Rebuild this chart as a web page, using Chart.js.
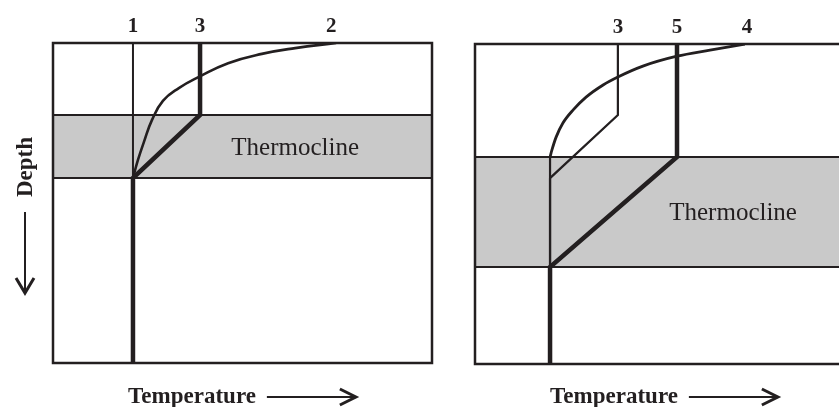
<!DOCTYPE html>
<html>
<head>
<meta charset="utf-8">
<script src="https://cdn.jsdelivr.net/npm/chart.js@4"></script>
<style>
  html, body { margin: 0; padding: 0; background: #fff; overflow: hidden; }
  body { width: 839px; height: 407px; position: relative; }
  canvas { position: absolute; top: 0; }
  #leftChart { left: 0; }
  #rightChart { left: 440px; }
</style>
</head>
<body>
<canvas id="leftChart" width="440" height="407"></canvas>
<canvas id="rightChart" width="420" height="407"></canvas>
<script>
(function () {
  const INK = "#231f20";
  const BAND = "#c9c9c9";
  const SERIF = "'Liberation Serif', 'Times New Roman', serif";

  // Left panel (temperature 0-100 across, depth 0-100 down)
  const leftThermocline = [22.5, 42.2];
  const left1Temp = [21.1, 21.1];
  const left1Depth = [0, 77.2];
  const left3Temp = [38.8, 38.8, 21.1, 21.1];
  const left3Depth = [0, 22.5, 42.2, 100];
  const left2Temp = [74.7, 63.9, 55.1, 46.2, 38.5, 33.2, 29.0, 26.1, 24.0, 22.4, 21.1];
  const left2Depth = [0, 1.6, 3.4, 6.3, 10.6, 14.1, 18.1, 24.1, 30.9, 36.6, 42.2];
  const leftLabels = ["1", "3", "2"];
  const leftLabelTemps = [21.1, 38.8, 73.4];

  // Right panel
  const rightThermocline = [35.3, 69.7];
  const right3Temp = [37.7, 37.7, 19.8, 19.8];
  const right3Depth = [0, 22.2, 41.9, 100];
  const right5Temp = [53.3, 53.3, 19.8, 19.8];
  const right5Depth = [0, 35.3, 69.7, 100];
  const right4Temp = [71.2, 62.0, 53.3, 44.3, 37.7, 33.8, 29.3, 25.9, 23.2, 21.4, 20.3, 19.8];
  const right4Depth = [0, 1.9, 3.8, 6.9, 10.3, 12.8, 16.6, 20.6, 24.7, 29.1, 33.1, 35.3];
  const right4TailTemp = [19.8, 19.8];
  const right4TailDepth = [35.3, 100];
  const rightLabels = ["3", "5", "4"];
  const rightLabelTemps = [37.7, 53.3, 71.8];

  function points(temps, depths) {
    return temps.map((t, i) => ({ x: t, y: depths[i] }));
  }

  // smooth: false | "monotone" | tension number
  function profile(temps, depths, width, smooth) {
    return {
      data: points(temps, depths),
      showLine: true,
      borderColor: INK,
      borderWidth: width,
      cubicInterpolationMode: smooth === "monotone" ? "monotone" : "default",
      tension: typeof smooth === "number" ? smooth : 0,
      pointRadius: 0,
      fill: false,
      borderJoinStyle: "miter",
      borderCapStyle: "butt",
    };
  }

  function arrowRight(ctx, x1, x2, y) {
    ctx.lineWidth = 2;
    ctx.beginPath();
    ctx.moveTo(x1, y);
    ctx.lineTo(x2 - 1, y);
    ctx.stroke();
    ctx.lineWidth = 3;
    ctx.beginPath();
    ctx.moveTo(x2 - 16, y - 8);
    ctx.lineTo(x2, y);
    ctx.lineTo(x2 - 16, y + 8);
    ctx.stroke();
  }

  function arrowDown(ctx, x, y1, y2) {
    ctx.lineWidth = 2;
    ctx.beginPath();
    ctx.moveTo(x, y1);
    ctx.lineTo(x, y2 - 1);
    ctx.stroke();
    ctx.lineWidth = 3;
    ctx.beginPath();
    ctx.moveTo(x - 9, y2 - 15);
    ctx.lineTo(x, y2);
    ctx.lineTo(x + 9, y2 - 15);
    ctx.stroke();
  }

  const panelDecor = {
    id: "panelDecor",
    beforeDatasetsDraw(chart, args, opts) {
      const { ctx, chartArea: a, scales } = chart;
      const top = scales.y.getPixelForValue(opts.band[0]);
      const bottom = scales.y.getPixelForValue(opts.band[1]);
      ctx.save();
      ctx.fillStyle = BAND;
      ctx.fillRect(a.left, top, a.right - a.left, bottom - top);
      ctx.strokeStyle = INK;
      ctx.lineWidth = 2;
      ctx.beginPath();
      ctx.moveTo(a.left, top);
      ctx.lineTo(a.right, top);
      ctx.moveTo(a.left, bottom);
      ctx.lineTo(a.right, bottom);
      ctx.stroke();
      ctx.fillStyle = INK;
      ctx.font = "25px " + SERIF;
      ctx.textAlign = "center";
      ctx.textBaseline = "alphabetic";
      ctx.fillText("Thermocline", scales.x.getPixelForValue(opts.bandLabelTemp), (top + bottom) / 2 + 8);
      ctx.restore();
    },
    afterDatasetsDraw(chart, args, opts) {
      const { ctx, chartArea: a, scales } = chart;
      ctx.save();
      ctx.strokeStyle = INK;
      ctx.fillStyle = INK;
      ctx.lineWidth = 2.5;
      ctx.strokeRect(a.left, a.top, a.right - a.left, a.bottom - a.top);

      ctx.font = "bold 21px " + SERIF;
      ctx.textAlign = "center";
      ctx.textBaseline = "alphabetic";
      opts.labels.forEach((name, i) => {
        ctx.fillText(name, scales.x.getPixelForValue(opts.labelTemps[i]), a.top - 11);
      });

      ctx.font = "bold 23px " + SERIF;
      const tx = opts.tempTextX;
      ctx.fillText("Temperature", tx, 403);
      const w = ctx.measureText("Temperature").width;
      arrowRight(ctx, tx + w / 2 + 11, tx + w / 2 + 100, 397);

      if (opts.depth) {
        ctx.save();
        ctx.translate(32, 167);
        ctx.rotate(-Math.PI / 2);
        ctx.fillText("Depth", 0, 0);
        ctx.restore();
        arrowDown(ctx, 25, 212, 293);
      }
      ctx.restore();
    },
  };

  function createPanel(id, datasets, padding, decor) {
    return new Chart(document.getElementById(id), {
      type: "scatter",
      data: { datasets },
      plugins: [panelDecor],
      options: {
        responsive: false,
        animation: false,
        devicePixelRatio: 1,
        layout: { padding },
        scales: {
          x: { type: "linear", min: 0, max: 100, display: false },
          y: { type: "linear", min: 0, max: 100, reverse: true, display: false },
        },
        plugins: {
          legend: { display: false },
          tooltip: { enabled: false },
          panelDecor: decor,
        },
      },
    });
  }

  createPanel(
    "leftChart",
    [
      profile(left1Temp, left1Depth, 2),
      profile(left2Temp, left2Depth, 2.6, 0.45),
      profile(left3Temp, left3Depth, 4.5),
    ],
    { left: 53, top: 43, right: 8, bottom: 44 },
    {
      band: leftThermocline,
      bandLabelTemp: 63.9,
      labels: leftLabels,
      labelTemps: leftLabelTemps,
      tempTextX: 192,
      depth: true,
    }
  );

  createPanel(
    "rightChart",
    [
      profile(right3Temp, right3Depth, 2.2),
      profile(right4Temp, right4Depth, 2.8, "monotone"),
      profile(right4TailTemp, right4TailDepth, 2.2),
      profile(right5Temp, right5Depth, 4.5),
    ],
    { left: 35, top: 44, right: 6, bottom: 43 },
    {
      band: rightThermocline,
      bandLabelTemp: 68.1,
      labels: rightLabels,
      labelTemps: rightLabelTemps,
      tempTextX: 174,
      depth: false,
    }
  );
})();
</script>
</body>
</html>
